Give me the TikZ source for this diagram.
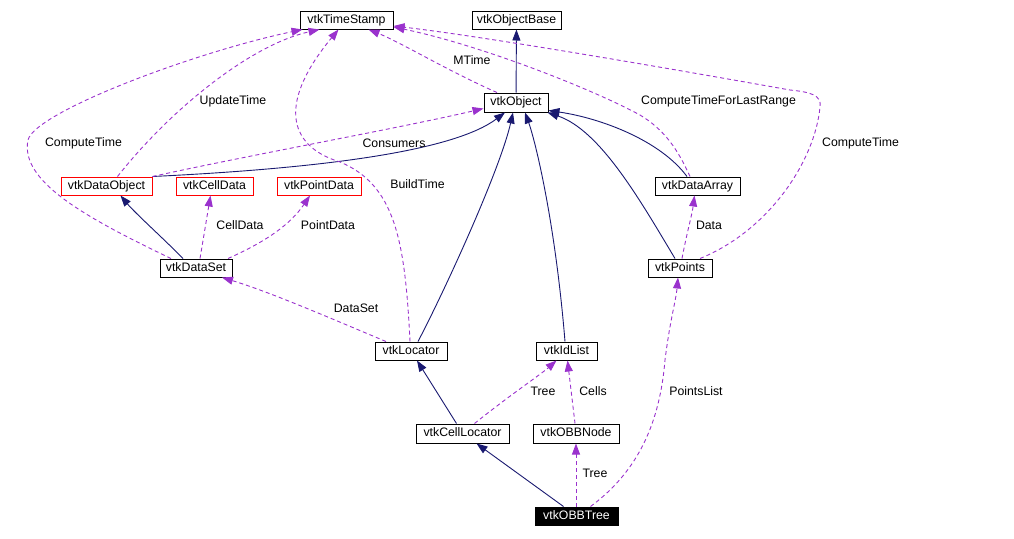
\documentclass[tikz,border=0pt]{standalone}
\usepackage{fontspec}
\setmainfont{Liberation Sans}
\usetikzlibrary{arrows.meta}
\definecolor{inhc}{HTML}{191970}
\definecolor{depc}{HTML}{9A32CD}
\begin{document}
\begin{tikzpicture}[x=1pt,y=-1pt,
 font=\fontsize{12.3}{14}\selectfont,
 cls/.style={draw=black,line width=1pt,inner sep=0pt,minimum height=18pt,text height=9pt,text depth=2.5pt,fill=white},
 redcls/.style={cls,draw=red},
 inh/.style={draw=inhc,line width=0.9pt,-{Triangle[length=11pt,width=8pt]}},
 dep/.style={draw=depc,line width=0.9pt,dash pattern=on 4pt off 3pt,-{Triangle[length=11pt,width=8pt]}},
 lbl/.style={inner sep=0pt}]
\path[use as bounding box] (0,0) rectangle (1014,538);

% classes
\node[cls,minimum width=93pt] (ts) at (346.5,20) {vtkTimeStamp};
\node[cls,minimum width=89pt] (ob) at (516.5,20) {vtkObjectBase};
\node[cls,minimum width=64pt,minimum height=19pt] (obj) at (516,102.5) {vtkObject};
\node[redcls,minimum width=91pt] (dobj) at (106.5,186) {vtkDataObject};
\node[redcls,minimum width=77pt] (cd) at (214.5,186) {vtkCellData};
\node[redcls,minimum width=84pt] (pd) at (319,186) {vtkPointData};
\node[cls,minimum width=85pt] (da) at (697.5,186) {vtkDataArray};
\node[cls,minimum width=72pt] (ds) at (196,268) {vtkDataSet};
\node[cls,minimum width=64pt] (pts) at (680,268) {vtkPoints};
\node[cls,minimum width=72pt] (loc) at (411,351) {vtkLocator};
\node[cls,minimum width=61pt] (idl) at (566.5,351) {vtkIdList};
\node[cls,minimum width=93pt,minimum height=19pt] (cl) at (462.5,433.5) {vtkCellLocator};
\node[cls,minimum width=86pt,minimum height=19pt] (obbn) at (576,433.5) {vtkOBBNode};
\node[cls,fill=black,text=white,minimum width=83pt] (obbt) at (576.5,516) {vtkOBBTree};

% inheritance
\draw[inh] (obj) -- (ob);
\draw[inh] (dobj.north east) .. controls (330,168) and (455,150) .. ([xshift=-11pt]obj.south);
\draw[inh] ([xshift=7pt]loc.north) .. controls (445,290) and (500,170) .. ([xshift=-3pt]obj.south);
\draw[inh] ([xshift=-1.5pt]idl.north) .. controls (555,220) and (535,140) .. ([xshift=9pt]obj.south);
\draw[inh] ([xshift=-5pt]pts.north) .. controls (640,200) and (600,130) .. ([xshift=-1pt]obj.south east);
\draw[inh] ([xshift=-10.5pt]da.north) .. controls (660,140) and (600,118) .. ([yshift=2pt]obj.south east);
\draw[inh] ([xshift=-13pt]ds.north) .. controls (165,240) and (135,213) .. ([xshift=14pt]dobj.south);
\draw[inh] ([xshift=-6pt]cl.north) -- ([xshift=6pt]loc.south);
\draw[inh] ([xshift=-13pt]obbt.north) -- ([xshift=14pt]cl.south);

% usage
\draw[dep] ([xshift=11pt]dobj.north) .. controls (170,110) and (250,45) .. ([xshift=-27pt]ts.south);
\draw[dep] ([xshift=-25pt]ds.north) .. controls (80,215) and (20,180) .. (28,140) .. controls (35,112) and (195,52) .. ([xshift=3pt]ts.south west);
\draw[dep] ([xshift=-1pt]loc.north) .. controls (405,240) and (395,185) .. (340,162) .. controls (285,145) and (280,100) .. ([xshift=-8pt]ts.south);
\draw[dep] ([xshift=-19pt]obj.north) .. controls (450,72) and (400,42) .. ([xshift=22pt]ts.south);
\draw[dep] ([xshift=-7.5pt]da.north) .. controls (678,150) and (665,130) .. (640,115) .. controls (590,88) and (480,45) .. ([yshift=-7pt]ts.east);
\draw[dep] ([xshift=20pt]pts.north) .. controls (770,230) and (815,160) .. (820,107) .. controls (822,95) and (810,92) .. (790,90) .. controls (650,65) and (480,36) .. ([yshift=-6pt]ts.east);
\draw[dep] (dobj.north east) .. controls (250,155) and (400,128) .. ([yshift=-6pt]obj.west);
\draw[dep] ([xshift=4pt]ds.north) -- ([xshift=-4pt]cd.south);
\draw[dep] ([xshift=32pt]ds.north) .. controls (265,242) and (290,225) .. ([xshift=-9pt]pd.south);
\draw[dep] ([xshift=-25pt]loc.north) .. controls (330,318) and (270,292) .. ([xshift=26pt]ds.south);
\draw[dep] ([xshift=2pt]pts.north) .. controls (687,232) and (692,215) .. ([xshift=-3pt]da.south);
\draw[dep] ([xshift=12pt]cl.north) .. controls (510,395) and (540,375) .. ([xshift=-10pt]idl.south);
\draw[dep] ([xshift=-1pt]obbn.north) -- ([xshift=1pt]idl.south);
\draw[dep] ([xshift=-0.5pt]obbt.north) -- (obbn.south);
\draw[dep] ([xshift=14pt]obbt.north) .. controls (640,470) and (660,420) .. (665,360) .. controls (670,320) and (676,300) .. ([xshift=-2pt]pts.south);

% labels
\node[lbl] (lmtime) at (472,60) {MTime};
\node[lbl] (lupd) at (233,101) {UpdateTime};
\node[lbl] (lct1) at (83.5,143) {ComputeTime};
\node[lbl] (lcons) at (394,143) {Consumers};
\node[lbl] (lbuild) at (417.5,184) {BuildTime};
\node[lbl] (lctflr) at (718.5,101) {ComputeTimeForLastRange};
\node[lbl] (lct2) at (860.5,143) {ComputeTime};
\node[lbl] (lcd) at (240,225) {CellData};
\node[lbl] (lpd) at (328,225) {PointData};
\node[lbl] (ldata) at (709,225) {Data};
\node[lbl] (lds) at (356,308) {DataSet};
\node[lbl] (ltree1) at (543,391) {Tree};
\node[lbl] (lcells) at (593,391) {Cells};
\node[lbl] (lpl) at (696,391) {PointsList};
\node[lbl] (ltree2) at (595,473) {Tree};
\end{tikzpicture}
\end{document}
